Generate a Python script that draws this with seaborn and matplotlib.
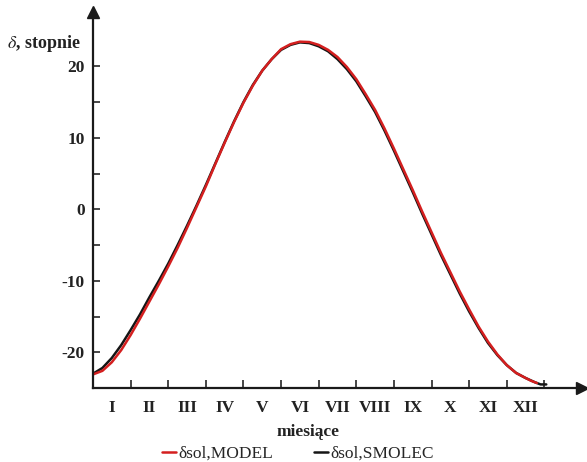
import numpy as np
import pandas as pd
import matplotlib
matplotlib.use("Agg")
import matplotlib.pyplot as plt
import seaborn as sns
from matplotlib.lines import Line2D

# ---- data ----
smolec_x = [0, 0.25, 0.5, 0.75, 1, 1.25, 1.5, 1.75, 2, 2.25, 2.5, 2.75, 3, 3.25, 3.5, 3.75,
            4, 4.25, 4.5, 4.75, 5, 5.25, 5.5, 5.75, 6, 6.25, 6.5, 6.75, 7, 7.25, 7.5, 7.75,
            8, 8.25, 8.5, 8.75, 9, 9.25, 9.5, 9.75, 10, 10.25, 10.5, 10.75, 11, 11.25, 11.5,
            11.75, 11.9, 12.05]
smolec = [-23.0, -22.2, -20.8, -19.0, -16.9, -14.7, -12.3, -10.0, -7.6, -5.0, -2.3, 0.5,
          3.4, 6.4, 9.4, 12.3, 15.0, 17.4, 19.4, 21.0, 22.3, 23.0, 23.35, 23.25, 22.8, 22.1,
          21.0, 19.6, 17.9, 15.8, 13.6, 11.0, 8.2, 5.3, 2.4, -0.6, -3.5, -6.4, -9.1, -11.8,
          -14.3, -16.6, -18.7, -20.4, -21.8, -22.9, -23.6, -24.2, -24.5, -24.5]
model_x = [0, 0.25, 0.5, 0.75, 1, 1.25, 1.5, 1.75, 2, 2.25, 2.5, 2.75, 3, 3.25, 3.5, 3.75,
           4, 4.25, 4.5, 4.75, 5, 5.25, 5.5, 5.75, 6, 6.25, 6.5, 6.75, 7, 7.25, 7.5, 7.75,
           8, 8.25, 8.5, 8.75, 9, 9.25, 9.5, 9.75, 10, 10.25, 10.5, 10.75, 11, 11.25, 11.5,
           11.65, 11.8]
model = [-23.1, -22.6, -21.4, -19.7, -17.6, -15.3, -12.9, -10.5, -8.0, -5.4, -2.6, 0.3,
         3.2, 6.3, 9.3, 12.2, 14.9, 17.3, 19.4, 21.0, 22.4, 23.1, 23.45, 23.4, 23.0, 22.3,
         21.3, 19.9, 18.2, 16.1, 13.9, 11.3, 8.5, 5.6, 2.7, -0.3, -3.2, -6.1, -8.8, -11.5,
         -14.0, -16.4, -18.5, -20.3, -21.8, -22.9, -23.6, -24.0, -24.3]
month_labels = ["I", "II", "III", "IV", "V", "VI", "VII", "VIII", "IX", "X", "XI", "XII"]
y_ticks = [-20, -10, 0, 10, 20]
series_names = ["δsol,MODEL", "δsol,SMOLEC"]

df = pd.concat([
    pd.DataFrame({"x": smolec_x, "y": smolec, "s": series_names[1]}),
    pd.DataFrame({"x": model_x, "y": model, "s": series_names[0]}),
])

sns.set_style("white")
plt.rcParams["font.family"] = ["Liberation Serif", "DejaVu Serif"]
plt.rcParams["mathtext.fontset"] = "stix"

RED = "#d41f1f"
BLK = "#151515"

fig = plt.figure(figsize=(5.87, 4.62), dpi=100)
W, H = 587, 462
ax = fig.add_axes([93 / W, (H - 388) / H, (582 - 93) / W, (388 - 12) / H])

sns.lineplot(data=df, x="x", y="y", hue="s", hue_order=[series_names[1], series_names[0]],
             palette={series_names[0]: RED, series_names[1]: BLK},
             linewidth=1.8, sort=False, estimator=None, legend=False, ax=ax)

ax.set_xlim(0, 13)
ax.set_ylim(-25, 27.6)

for side in ["top", "right"]:
    ax.spines[side].set_visible(False)
for side in ["left", "bottom"]:
    ax.spines[side].set_linewidth(1.6)
    ax.spines[side].set_color("#1a1a1a")

# arrow heads
ax.plot(1, 0, ">", transform=ax.transAxes, color="#1a1a1a", markersize=9, clip_on=False)
ax.plot(0, 1, "^", transform=ax.transAxes, color="#1a1a1a", markersize=9, clip_on=False)

# y ticks
ax.set_yticks(y_ticks)
ax.set_yticks([-15, -5, 5, 15], minor=True)
ax.set_yticklabels([str(v) for v in y_ticks], fontsize=12.5, fontweight="bold", color="#222222")
ax.tick_params(axis="y", which="both", direction="in", length=5, width=1.2, pad=6, left=True)

# x ticks: month boundaries, labels centred between them
ax.set_xticks(range(1, 13))
ax.set_xticklabels([])
ax.set_xticks([i + 0.5 for i in range(12)], minor=True)
ax.set_xticklabels(month_labels, minor=True, fontsize=12.5, fontweight="bold", color="#222222")
ax.tick_params(axis="x", which="major", direction="in", length=6, width=1.2, bottom=True)
ax.tick_params(axis="x", which="minor", length=0, pad=9)
ax.set_xlabel("")
ax.set_ylabel("")

fig.text(308 / W, 1 - 432 / H, "miesiące", ha="center", va="center",
         fontsize=12.5, fontweight="bold", color="#222222")
fig.text(7 / W, 1 - 43 / H, r"$\delta$, stopnie", ha="left", va="center",
         fontsize=13, fontweight="bold", color="#222222")

# legend
handles = [Line2D([], [], color=RED, lw=1.8), Line2D([], [], color=BLK, lw=1.8)]
fig.legend(handles, series_names, loc="center", bbox_to_anchor=(298 / W, 1 - 454 / H),
           ncol=2, frameon=False, handlelength=0.8, handletextpad=0.1,
           columnspacing=2.4, fontsize=12.5)

fig.savefig("out.png", dpi=100, facecolor="white")
